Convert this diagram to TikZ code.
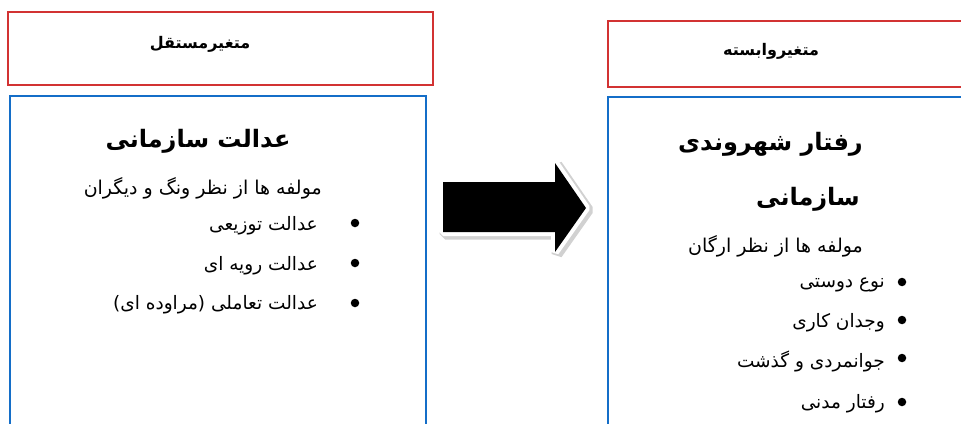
\documentclass[tikz,border=0pt]{standalone}
\usepackage{fontspec}
\TeXXeTstate=1
\newfontfamily\arabicfont[Script=Arabic]{DejaVu Sans}
\definecolor{boxred}{RGB}{210,50,50}
\definecolor{boxblue}{RGB}{20,110,200}
\tikzset{
  redbox/.style={draw=boxred,line width=1.6pt},
  bluebox/.style={draw=boxblue,line width=2pt},
  hdr/.style={font=\arabicfont\fontsize{16}{18}\selectfont\bfseries,inner sep=0pt},
  ttl/.style={font=\arabicfont\fontsize{24}{28}\selectfont\bfseries,inner sep=0pt},
  sub/.style={font=\arabicfont\fontsize{19}{22}\selectfont,inner sep=0pt,anchor=east},
  item/.style={font=\arabicfont\fontsize{18.5}{22}\selectfont,inner sep=0pt,anchor=east},
  bul/.style={circle,fill=black,inner sep=0pt,minimum size=8.5pt},
  arrowpath/.style={line join=bevel},
}
\begin{document}
\begin{tikzpicture}[x=1pt,y=-1pt]
\clip (0,0) rectangle (961,423);
\fill[white] (0,0) rectangle (961,423);
% boxes
\draw[redbox] (8,12) rectangle (433,85);
\draw[bluebox] (10,96) rectangle (426,440);
\draw[redbox] (608,21) rectangle (980,87);
\draw[bluebox] (608,97) rectangle (980,440);
% arrow
\draw[arrowpath,black!18,line width=11pt] (445,184) -- (557,184) -- (557,165) -- (588,210) -- (557,254) -- (557,234) -- (445,234) -- cycle;
\draw[arrowpath,white,line width=8pt] (443,182) -- (555,182) -- (555,163) -- (586,208) -- (555,252) -- (555,232) -- (443,232) -- cycle;
\fill[black] (443,182) -- (555,182) -- (555,163) -- (586,208) -- (555,252) -- (555,232) -- (443,232) -- cycle;
% left
\node[hdr] (h1) at (200,44) {\beginR متغیرمستقل\endR};
\node[ttl] (t1) at (198,141) {\beginR عدالت سازمانی\endR};
\node[sub] (s1) at (322,188) {\beginR مولفه ها از نظر ونگ و دیگران\endR};
\node[item] (a1) at (318,226) {\beginR عدالت توزیعی\endR};
\node[item] (a2) at (318,266) {\beginR عدالت رویه ای\endR};
\node[item] (a3) at (318,305) {\beginR عدالت تعاملی (مراوده ای)\endR};
\node[bul] (b1) at (355,223) {};
\node[bul] (b2) at (355,263) {};
\node[bul] (b3) at (355,303) {};
% right
\node[hdr] (h2) at (771,51) {\beginR متغیروابسته\endR};
\node[ttl,anchor=east] (t2) at (863,144) {\beginR رفتار شهروندی\endR};
\node[ttl,anchor=east] (t3) at (860,199) {\beginR سازمانی\endR};
\node[sub] (s2) at (863,246) {\beginR مولفه ها از نظر ارگان\endR};
\node[item] (c1) at (885,285) {\beginR نوع دوستی\endR};
\node[item] (c2) at (885,323) {\beginR وجدان کاری\endR};
\node[item] (c3) at (885,361) {\beginR جوانمردی و گذشت\endR};
\node[item] (c4) at (885,404) {\beginR رفتار مدنی\endR};
\node[bul] (d1) at (902,282) {};
\node[bul] (d2) at (902,320) {};
\node[bul] (d3) at (902,358) {};
\node[bul] (d4) at (902,402) {};
\end{tikzpicture}
\end{document}
